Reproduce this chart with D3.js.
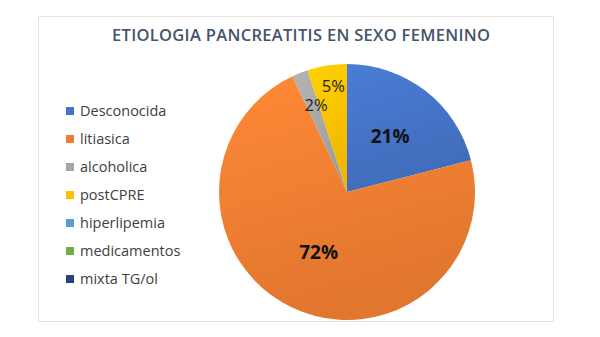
<!DOCTYPE html>
<html>
<head>
<meta charset="utf-8">
<script src="https://cdn.jsdelivr.net/npm/d3@7"></script>
<style>
  body { margin: 0; background: #fff; }
  text { font-family: "Open Sans", "Noto Sans", sans-serif; }
</style>
</head>
<body>
<svg id="pieChart" width="600" height="337"></svg>
<script>
const categories = ["Desconocida", "litiasica", "alcoholica", "postCPRE", "hiperlipemia", "medicamentos", "mixta TG/ol"];
const percents = [21, 72, 2, 5, 0, 0, 0];
const colors = ["#4472c4", "#ed7d31", "#a5a5a5", "#ffc000", "#5b9bd5", "#70ad47", "#264478"];
const title = "ETIOLOGIA PANCREATITIS EN SEXO FEMENINO";

const svg = d3.select("#pieChart");
const cx = 347, cy = 192, radius = 128;

// chart frame
svg.append("rect")
  .attr("x", 38.5).attr("y", 16.5)
  .attr("width", 515).attr("height", 305)
  .attr("fill", "#fff")
  .attr("stroke", "#e3e3e3");

svg.append("text")
  .attr("x", 301).attr("y", 41)
  .attr("text-anchor", "middle")
  .attr("fill", "#44546a")
  .style("font-size", "16.5px")
  .style("font-weight", 600)
  .attr("textLength", 378)
  .text(title);

const color = d3.scaleOrdinal().domain(categories).range(colors);

// soft top-to-bottom shading like the original
const defs = svg.append("defs");
categories.forEach((c, i) => {
  const grad = defs.append("linearGradient")
    .attr("id", "grad" + i)
    .attr("x1", 0).attr("y1", 0).attr("x2", 0.3).attr("y2", 1);
  grad.append("stop").attr("offset", "0%").attr("stop-color", d3.color(color(c)).brighter(0.25));
  grad.append("stop").attr("offset", "100%").attr("stop-color", d3.color(color(c)).darker(0.15));
});

const pie = d3.pie().value(d => d.value).sort(null);
const arc = d3.arc().innerRadius(0).outerRadius(radius);
const data = categories.map((label, i) => ({ label, value: percents[i], i }));

const g = svg.append("g").attr("transform", `translate(${cx},${cy})`);

g.selectAll("path")
  .data(pie(data).filter(d => d.data.value > 0))
  .join("path")
  .attr("d", arc)
  .attr("fill", d => `url(#grad${d.data.i})`);

// label placement (fraction of radius) per slice
const labelArc = {
  Desconocida: d3.arc().innerRadius(radius * 0.55).outerRadius(radius * 0.55),
  litiasica: d3.arc().innerRadius(radius * 0.52).outerRadius(radius * 0.52),
  alcoholica: d3.arc().innerRadius(radius * 0.72).outerRadius(radius * 0.72),
  postCPRE: d3.arc().innerRadius(radius * 0.83).outerRadius(radius * 0.83)
};

g.selectAll("text.lbl")
  .data(pie(data).filter(d => d.data.value > 0))
  .join("text")
  .attr("class", "lbl")
  .attr("transform", d => {
    const [x, y] = labelArc[d.data.label].centroid(d);
    return d.data.value > 10 ? `translate(${x},${y})` : `translate(${x + 3},${y - 1})`;
  })
  .attr("text-anchor", "middle")
  .attr("dy", "0.35em")
  .attr("fill", d => d.data.value > 10 ? "#111" : "#222")
  .style("font-size", d => d.data.value > 10 ? "19px" : "16.5px")
  .style("font-weight", d => d.data.value > 10 ? 700 : 400)
  .text(d => d.data.value + "%");

// legend
const legend = svg.append("g").attr("transform", "translate(66,111)");
const rows = legend.selectAll("g")
  .data(categories)
  .join("g")
  .attr("transform", (d, i) => `translate(0,${i * 28})`);

rows.append("rect")
  .attr("x", 0).attr("y", -4)
  .attr("width", 8).attr("height", 8)
  .attr("fill", d => color(d));

rows.append("text")
  .attr("x", 14).attr("y", 0)
  .attr("dy", "0.35em")
  .attr("fill", "#404040")
  .style("font-size", "14.5px")
  .text(d => d);
</script>
</body>
</html>
